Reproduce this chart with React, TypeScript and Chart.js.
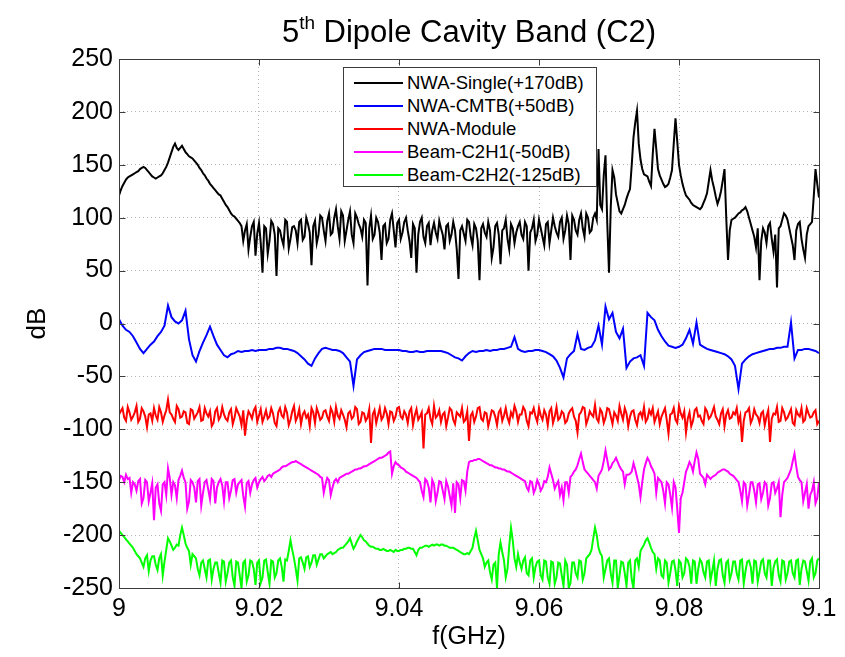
import React, { useEffect, useRef } from "react";
import { Chart, registerables } from "chart.js";

Chart.register(...registerables);

// Frequency sweep (GHz): 9.000 .. 9.100. Main samples every 0.0005 GHz,
// extra samples read at the midpoints (every 0.00025 GHz) for the noisy traces.
const FREQ_START = 9;
const FREQ_STEP = 0.00025;
const FREQ_COUNT = 401;
const freqGHz = Array.from({ length: FREQ_COUNT }, (_, i) => +(FREQ_START + i * FREQ_STEP).toFixed(5));

const xTicks = [9, 9.02, 9.04, 9.06, 9.08, 9.1];
const yTicks = [-250, -200, -150, -100, -50, 0, 50, 100, 150, 200, 250];

const seriesNames = [
  "NWA-Single(+170dB)",
  "NWA-CMTB(+50dB)",
  "NWA-Module",
  "Beam-C2H1(-50dB)",
  "Beam-C2H2(-125dB)",
];
const seriesColors = ["#000000", "#0000ff", "#ff0000", "#ff00ff", "#00ff00"];

// ---- NWA-Single (+170 dB) ----
const nwaSingle = [
  121, 130, 136, 139, 141, 143, 146, 148, 145, 141,
  138, 138, 140, 145, 152, 162, 170, 164, 168, 162,
  158, 156, 152, 147, 142, 137, 132, 128, 124, 121,
  115, 110, 104, 101, 97, 92, 88, 70, 92, 64,
  95, 48, 90, 78, 94, 45, 88, 74, 96, 80,
  92, 76, 98, 82, 94, 55, 97, 84, 100, 78,
  104, 86, 108, 80, 102, 88, 106, 76, 100, 90,
  98, 36, 102, 84, 96, 60, 94, 80, 104, 72,
  98, 86, 100, 78, 94, 48, 96, 82, 92, 74,
  95, 80, 90, 70, 94, 84, 88, 42, 92, 78,
  96, 74, 90, 41, 94, 82, 88, 72, 95, 56,
  90, 80, 94, 76, 92, 84, 96, 50, 90, 78,
  98, 82, 94, 76, 100, 86, 96, 80, 102, 60,
  98, 84, 104, 82, 100, 88, 104, 165, 108, 159,
  48, 145, 122, 106, 108, 118, 127, 176, 201, 155,
  141, 139, 130, 184, 146, 136, 129, 132, 145, 194,
  150, 132, 121, 117, 112, 110, 108, 114, 123, 145,
  128, 113, 125, 146, 60, 98, 100, 104, 107, 110,
  100, 88, 72, 41, 90, 76, 95, 68, 34, 92,
  104, 98, 82, 60, 94, 80, 62, 92, 96, 146,
  119,
];
const nwaSingleMid = [
  126, 133, 138, 140, 142, 144, 147, 147, 143, 139,
  137, 139, 142, 148, 157, 167, 166, 166, 165, 160,
  157, 154, 150, 145, 140, 135, 130, 126, 122, 118,
  112, 107, 102, 99, 95, 78, 94, 82, 96, 85,
  76, 92, 66, 97, 84, 90, 80, 98, 71, 91,
  88, 96, 79, 100, 86, 92, 76, 102, 88, 97,
  84, 100, 92, 106, 78, 98, 84, 104, 94, 82,
  95, 90, 80, 100, 86, 92, 76, 98, 88, 95,
  80, 96, 88, 62, 90, 84, 100, 76, 95, 88,
  86, 97, 84, 92, 78, 96, 70, 88, 85, 98,
  82, 94, 78, 90, 86, 96, 62, 92, 84, 88,
  98, 70, 90, 86, 96, 80, 92, 86, 98, 84,
  90, 74, 96, 88, 92, 82, 100, 88, 94, 102,
  88, 98, 90, 104, 86, 100, 98, 112, 140, 95,
  110, 138, 114, 104, 112, 123, 150, 190, 170, 146,
  140, 134, 160, 165, 140, 132, 130, 138, 170, 172,
  140, 126, 119, 114, 111, 109, 110, 118, 134, 135,
  120, 118, 135, 100, 88, 99, 102, 105, 108, 106,
  94, 82, 90, 78, 86, 92, 80, 84, 90, 98,
  102, 90, 74, 88, 96, 70, 84, 94, 120, 132,
];

// ---- NWA-CMTB (+50 dB), main samples only ----
const nwaCmtb = [
  4, -2, -6, -8, -12, -18, -24, -28, -24, -20,
  -17, -12, -8, -2, 17, 6, 2, 0, 3, 12,
  -15, -30, -36, -26, -18, -11, -3, -12, -20, -25,
  -30, -32, -29, -28, -26, -27, -26, -26, -25, -26,
  -25, -25, -25, -24, -24, -23, -23, -24, -24, -25,
  -26, -28, -31, -34, -38, -40, -33, -28, -24, -23,
  -24, -25, -25, -26, -28, -32, -36, -59, -34, -30,
  -27, -26, -25, -24, -24, -24, -25, -25, -25, -25,
  -25, -26, -26, -27, -27, -26, -27, -27, -26, -26,
  -26, -26, -26, -27, -28, -30, -32, -33, -35, -31,
  -28, -26, -27, -26, -26, -25, -26, -25, -25, -24,
  -24, -23, -22, -13, -24, -26, -27, -26, -26, -25,
  -25, -26, -27, -29, -31, -35, -42, -51, -33, -29,
  -26, -10, -24, -25, -23, -22, -16, -2, -20, 16,
  4, 10, -8, -14, -5, -42, -36, -33, -32, -30,
  -40, 10, 6, 3, -6, -12, -17, -21, -22, -23,
  -22, -20, -14, -6, -19, 1, -20, -22, -24, -25,
  -26, -27, -28, -29, -31, -34, -40, -62, -38, -34,
  -31, -29, -28, -27, -26, -25, -24, -24, -23, -23,
  -22, -22, 1, -33, -25, -25, -24, -24, -25, -26,
  -28,
];

// ---- NWA-Module ----
const nwaModule = [
  -86, -80, -92, -84, -88, -78, -90, -83, -98, -85,
  -80, -91, -84, -87, -72, -86, -93, -81, -88, -84,
  -95, -82, -87, -79, -91, -85, -83, -94, -80, -88,
  -86, -92, -81, -89, -84, -96, -106, -83, -90, -79,
  -87, -93, -82, -88, -85, -97, -80, -89, -84, -91,
  -78, -88, -95, -83, -86, -80, -94, -85, -89, -82,
  -92, -84, -79, -90, -86, -98, -83, -88, -81, -93,
  -85, -89, -113, -82, -87, -91, -80, -95, -84, -88,
  -79, -90, -86, -83, -96, -81, -88, -118, -85, -90,
  -78, -87, -93, -84, -89, -82, -95, -86, -80, -91,
  -111, -84, -88, -79, -92, -85, -90, -83, -96, -81,
  -87, -89, -84, -78, -93, -86, -82, -97, -85, -88,
  -80, -91, -86, -83, -94, -79, -89, -85, -92, -82,
  -88, -103, -84, -80, -90, -86, -77, -93, -84, -89,
  -81, -95, -87, -78, -91, -85, -88, -82, -96, -84,
  -79, -90, -86, -93, -83, -88, -80, -104, -85, -91,
  -78, -89, -103, -84, -92, -80, -87, -95, -83, -88,
  -79, -91, -85, -97, -82, -89, -86, -93, -112, -84,
  -80, -90, -86, -94, -83, -88, -112, -85, -79, -92,
  -84, -89, -81, -96, -86, -80, -91, -85, -88, -82,
  -92,
];
const nwaModuleMid = [
  -83, -89, -79, -91, -84, -93, -80, -88, -86, -92,
  -87, -79, -93, -82, -84, -90, -78, -89, -83, -94,
  -81, -90, -84, -92, -80, -88, -97, -83, -91, -79,
  -90, -84, -95, -80, -88, -82, -91, -86, -82, -93,
  -81, -88, -90, -80, -94, -84, -87, -79, -96, -83,
  -92, -81, -86, -89, -97, -84, -80, -91, -83, -88,
  -80, -93, -87, -82, -91, -85, -90, -79, -95, -84,
  -92, -81, -86, -94, -80, -88, -85, -83, -92, -80,
  -88, -83, -94, -80, -87, -91, -84, -86, -80, -95,
  -89, -82, -86, -97, -80, -91, -84, -88, -93, -83,
  -87, -93, -80, -90, -84, -97, -82, -88, -84, -92,
  -80, -94, -88, -83, -86, -79, -92, -84, -80, -93,
  -87, -82, -96, -80, -88, -91, -83, -94, -85, -80,
  -92, -86, -79, -95, -83, -88, -90, -81, -94, -80,
  -88, -84, -92, -85, -80, -97, -83, -91, -86, -89,
  -93, -82, -80, -88, -95, -84, -91, -86, -80, -94,
  -85, -83, -90, -97, -82, -88, -92, -80, -90, -84,
  -88, -95, -81, -86, -90, -84, -80, -87, -92, -83,
  -94, -81, -88, -85, -96, -82, -90, -86, -93, -80,
  -91, -85, -94, -82, -88, -93, -80, -89, -84, -95,
];

// ---- Beam-C2H1 (-50 dB) ----
const beamC2H1 = [
  -148, -145, -143, -146, -150, -158, -147, -165, -150, -160,
  -186, -152, -177, -150, -137, -162, -153, -148, -139, -150,
  -168, -150, -169, -147, -160, -148, -166, -149, -155, -147,
  -168, -150, -158, -147, -152, -148, -173, -149, -152, -146,
  -150, -145, -147, -143, -142, -140, -138, -135, -134, -132,
  -131, -131, -133, -135, -137, -139, -141, -143, -146, -152,
  -148, -155, -147, -146, -144, -142, -141, -139, -138, -137,
  -135, -134, -132, -130, -128, -127, -125, -122, -142, -131,
  -134, -137, -140, -142, -144, -146, -150, -164, -149, -169,
  -152, -160, -150, -166, -154, -172, -179, -152, -148, -158,
  -131, -130, -129, -128, -130, -132, -134, -135, -136, -137,
  -138, -140, -141, -143, -145, -147, -149, -158, -150, -156,
  -152, -155, -150, -136, -148, -152, -162, -167, -150, -145,
  -140, -134, -123, -138, -142, -146, -150, -144, -138, -120,
  -138, -132, -127, -135, -140, -143, -142, -132, -145, -164,
  -138, -127, -135, -142, -146, -150, -170, -152, -174, -155,
  -198, -160, -140, -131, -140, -122, -142, -146, -143, -147,
  -144, -141, -139, -138, -140, -143, -146, -150, -168, -152,
  -162, -150, -169, -151, -160, -152, -165, -150, -156, -183,
  -150, -146, -138, -123, -145, -150, -160, -175, -158, -170,
  -150,
];
const beamC2H1Mid = [
  -144, -150, -147, -160, -152, -149, -170, -148, -168, -151,
  -155, -170, -152, -162, -146, -150, -165, -144, -146, -175,
  -148, -155, -149, -172, -150, -157, -147, -170, -150, -153,
  -150, -165, -148, -160, -150, -163, -151, -160, -148, -155,
  -147, -149, -144, -145, -141, -139, -136, -135, -133, -131,
  -130, -132, -134, -136, -138, -140, -142, -145, -160, -146,
  -162, -149, -150, -145, -143, -142, -140, -138, -137, -136,
  -135, -133, -131, -129, -127, -126, -124, -121, -135, -133,
  -136, -138, -141, -143, -145, -148, -158, -147, -155, -148,
  -168, -149, -158, -149, -163, -151, -150, -165, -149, -140,
  -130, -129, -128, -129, -131, -133, -134, -136, -137, -138,
  -139, -140, -142, -144, -146, -148, -155, -149, -160, -148,
  -158, -149, -145, -142, -156, -149, -155, -150, -160, -143,
  -138, -128, -131, -140, -144, -148, -156, -141, -130, -129,
  -136, -130, -131, -138, -152, -143, -140, -138, -152, -150,
  -132, -130, -138, -160, -148, -158, -150, -162, -150, -175,
  -165, -150, -136, -134, -130, -128, -144, -152, -145, -145,
  -143, -140, -138, -139, -142, -144, -148, -158, -150, -172,
  -150, -158, -152, -166, -150, -172, -151, -160, -150, -162,
  -148, -142, -130, -135, -148, -168, -152, -162, -150, -165,
];

// ---- Beam-C2H2 (-125 dB) ----
const beamC2H2 = [
  -196, -200, -204, -208, -212, -218, -222, -230, -219, -224,
  -220, -233, -218, -225, -203, -210, -212, -210, -193, -208,
  -215, -218, -222, -238, -224, -240, -223, -232, -226, -245,
  -225, -236, -224, -248, -226, -250, -224, -238, -225, -247,
  -224, -240, -223, -246, -225, -236, -222, -244, -224, -205,
  -222, -243, -221, -232, -220, -226, -219, -223, -218, -220,
  -217, -218, -216, -213, -212, -208, -203, -213, -206, -200,
  -205, -208, -211, -212, -213, -214, -214, -215, -215, -214,
  -215, -214, -213, -212, -213, -219, -212, -211, -210, -210,
  -210, -209, -209, -210, -211, -212, -213, -215, -217, -218,
  -218, -212, -196, -214, -222, -226, -235, -228, -250, -207,
  -224, -232, -193, -222, -218, -232, -221, -238, -222, -230,
  -224, -242, -225, -246, -226, -240, -227, -248, -228, -245,
  -226, -240, -225, -236, -220, -214, -193, -212, -220, -232,
  -222, -245, -224, -238, -226, -248, -224, -250, -222, -215,
  -209, -203, -212, -218, -222, -238, -224, -245, -225, -233,
  -224, -240, -222, -230, -224, -246, -223, -235, -225, -243,
  -224, -232, -223, -245, -224, -236, -225, -242, -223, -234,
  -224, -246, -225, -235, -223, -240, -224, -231, -223, -244,
  -225, -236, -224, -240, -223, -232, -225, -243, -222, -236,
  -222,
];
const beamC2H2Mid = [
  -198, -202, -206, -210, -215, -220, -226, -222, -234, -220,
  -228, -222, -238, -214, -206, -214, -209, -200, -200, -212,
  -228, -220, -232, -226, -232, -224, -242, -226, -236, -224,
  -244, -226, -240, -225, -238, -226, -244, -224, -232, -226,
  -245, -224, -235, -224, -240, -224, -230, -223, -215, -214,
  -232, -222, -226, -221, -230, -219, -228, -218, -222, -218,
  -216, -217, -214, -212, -210, -206, -208, -210, -203, -202,
  -206, -210, -211, -213, -214, -213, -215, -214, -216, -215,
  -214, -213, -212, -213, -216, -214, -212, -210, -211, -209,
  -209, -210, -209, -210, -212, -212, -214, -216, -218, -217,
  -215, -203, -205, -218, -230, -224, -242, -226, -218, -216,
  -240, -210, -205, -230, -226, -224, -236, -224, -240, -225,
  -238, -224, -240, -225, -246, -226, -238, -224, -250, -226,
  -236, -224, -242, -222, -218, -203, -200, -217, -240, -224,
  -236, -224, -250, -225, -236, -226, -242, -224, -230, -212,
  -205, -207, -216, -232, -224, -240, -226, -236, -224, -248,
  -226, -236, -224, -246, -225, -232, -226, -240, -224, -234,
  -248, -224, -238, -226, -242, -225, -236, -224, -246, -225,
  -230, -224, -244, -225, -236, -224, -248, -225, -238, -224,
  -242, -225, -236, -224, -247, -224, -234, -225, -240, -224,
];

// main samples sit on every second sweep point; mid samples in between
const seriesMain = [nwaSingle, nwaCmtb, nwaModule, beamC2H1, beamC2H2];
const seriesMid: (number[] | null)[] = [nwaSingleMid, null, nwaModuleMid, beamC2H1Mid, beamC2H2Mid];

const FONT = "'Liberation Sans', Arial, Helvetica, sans-serif";
const W = 845;
const H = 657;

function buildPoints(main: number[], mid: number[] | null) {
  const pts: { x: number; y: number }[] = [];
  main.forEach((y, i) => {
    pts.push({ x: freqGHz[2 * i], y });
    if (mid && i < mid.length) pts.push({ x: freqGHz[2 * i + 1], y: mid[i] });
  });
  return pts;
}

const framePlugin = {
  id: "matlabFrame",
  afterDatasetsDraw(chart: any) {
    const { ctx, chartArea, scales } = chart;
    const l = Math.round(chartArea.left) + 0.5;
    const r = Math.round(chartArea.right) + 0.5;
    const t = Math.round(chartArea.top) + 0.5;
    const b = Math.round(chartArea.bottom) + 0.5;
    ctx.save();
    ctx.setLineDash([]);
    ctx.strokeStyle = "#3c3c3c";
    ctx.lineWidth = 1;
    ctx.strokeRect(l, t, r - l, b - t);
    const tl = 6;
    ctx.beginPath();
    xTicks.forEach((v) => {
      const px = Math.round(scales.x.getPixelForValue(v)) + 0.5;
      ctx.moveTo(px, b);
      ctx.lineTo(px, b - tl);
      ctx.moveTo(px, t);
      ctx.lineTo(px, t + tl);
    });
    yTicks.forEach((v) => {
      const py = Math.round(scales.y.getPixelForValue(v)) + 0.5;
      ctx.moveTo(l, py);
      ctx.lineTo(l + tl, py);
      ctx.moveTo(r, py);
      ctx.lineTo(r - tl, py);
    });
    ctx.stroke();
    ctx.restore();
  },
};

export default function App() {
  const canvasRef = useRef<HTMLCanvasElement | null>(null);

  useEffect(() => {
    const canvas = canvasRef.current;
    if (!canvas) return;
    const datasets = seriesMain.map((vals, k) => ({
      label: seriesNames[k],
      data: buildPoints(vals, seriesMid[k]),
      borderColor: seriesColors[k],
      backgroundColor: seriesColors[k],
      borderWidth: 2,
      pointRadius: 0,
      tension: 0,
      fill: false,
    }));
    const chart = new Chart(canvas, {
      type: "line",
      data: { datasets },
      options: {
        animation: false,
        responsive: false,
        devicePixelRatio: 1,
        layout: { padding: { left: 0, right: 26, top: 59, bottom: 0 } },
        plugins: {
          legend: { display: false },
          tooltip: { enabled: false },
          title: { display: false },
        },
        scales: {
          x: {
            type: "linear",
            min: 9,
            max: 9.1,
            afterBuildTicks: (scale: any) => {
              scale.ticks = xTicks.map((v) => ({ value: v }));
            },
            afterFit: (scale: any) => {
              scale.height = 69;
            },
            ticks: {
              color: "#000",
              padding: 6,
              maxRotation: 0,
              font: { family: FONT, size: 25 },
              callback: (v: any) => String(Number(Number(v).toFixed(2))),
            },
            grid: { color: "#b4b4b4", lineWidth: 1, drawTicks: false },
            border: { display: false, dash: [1, 3] },
            title: {
              display: true,
              text: "f(GHz)",
              color: "#000",
              font: { family: FONT, size: 25 },
              padding: { top: 0, bottom: 5 },
            },
          },
          y: {
            type: "linear",
            min: -250,
            max: 250,
            afterBuildTicks: (scale: any) => {
              scale.ticks = yTicks.map((v) => ({ value: v }));
            },
            afterFit: (scale: any) => {
              scale.width = 119;
            },
            ticks: {
              color: "#000",
              padding: 6,
              font: { family: FONT, size: 25 },
              callback: (v: any) => String(v),
            },
            grid: { color: "#b4b4b4", lineWidth: 1, drawTicks: false },
            border: { display: false, dash: [1, 3] },
            title: {
              display: true,
              text: "dB",
              color: "#000",
              font: { family: FONT, size: 26 },
              padding: { top: 22, bottom: 0 },
            },
          },
        },
      },
      plugins: [framePlugin],
    });
    return () => chart.destroy();
  }, []);

  const legendRowTop = [15, 38, 61, 84, 107];

  return (
    <div style={{ position: "absolute", left: 0, top: 0, width: W, height: H, background: "#fff", fontFamily: FONT }}>
      <canvas ref={canvasRef} width={W} height={H} style={{ display: "block", width: W, height: H }} />
      <div
        style={{
          position: "absolute",
          left: 119,
          width: 700,
          top: 14,
          textAlign: "center",
          fontSize: 31,
          lineHeight: "36px",
          color: "#000",
          whiteSpace: "nowrap",
        }}
      >
        5<span style={{ fontSize: 19, position: "relative", top: -13 }}>th</span> Dipole Cavity Band (C2)
      </div>
      <div
        style={{
          position: "absolute",
          left: 343,
          top: 67,
          width: 252,
          height: 118,
          border: "1px solid #3c3c3c",
          background: "#fff",
        }}
      >
        {seriesNames.map((name, k) => (
          <div key={name} style={{ position: "absolute", left: 0, top: legendRowTop[k] - 11, height: 22, width: 252 }}>
            <div
              style={{
                position: "absolute",
                left: 10,
                top: 10,
                width: 49,
                height: 2,
                background: seriesColors[k],
              }}
            />
            <div
              style={{
                position: "absolute",
                left: 63,
                top: 0,
                lineHeight: "22px",
                fontSize: 18.5,
                color: "#000",
                whiteSpace: "nowrap",
              }}
            >
              {name}
            </div>
          </div>
        ))}
      </div>
    </div>
  );
}
